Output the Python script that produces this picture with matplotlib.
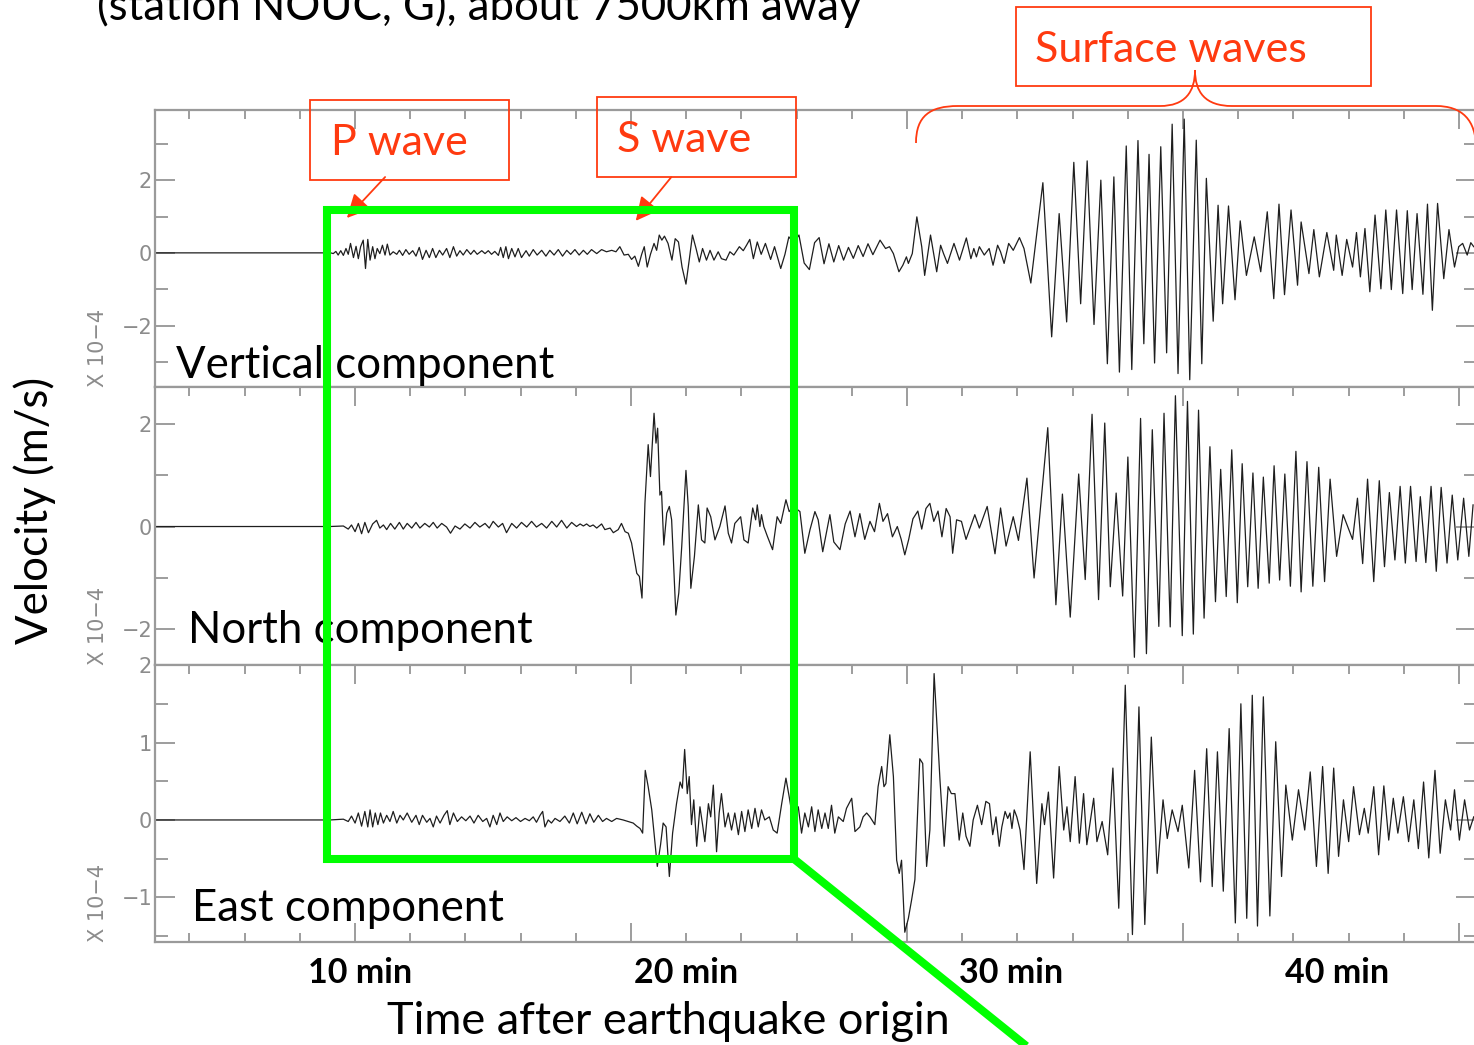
import numpy as np
import matplotlib.pyplot as plt
from matplotlib.patches import Rectangle, FancyArrowPatch, PathPatch
from matplotlib.path import Path
from matplotlib.lines import Line2D
from matplotlib.transforms import Affine2D, blended_transform_factory

# velocity traces, (minutes after origin, velocity x 1e-4 m/s) at the turning points
vertical = [
    (3.71, 0.0), (9.10, 0.0), (9.18, -0.02), (9.26, 0.04), (9.33, -0.06), (9.41, 0.06), (9.49, -0.07),
    (9.57, 0.12), (9.64, -0.04), (9.71, 0.26), (9.80, -0.13), (9.88, 0.18), (9.95, -0.16), (10.02, 0.17),
    (10.10, 0.35), (10.17, -0.43), (10.24, 0.37), (10.31, -0.20), (10.39, 0.17), (10.46, -0.16),
    (10.53, 0.12), (10.61, -0.02), (10.69, 0.21), (10.77, -0.06), (10.84, 0.24), (10.92, -0.06),
    (11.02, 0.03), (11.13, -0.04), (11.21, 0.07), (11.31, -0.07), (11.41, 0.09), (11.51, -0.04),
    (11.62, 0.06), (11.72, -0.09), (11.82, 0.15), (11.92, -0.18), (12.03, 0.07), (12.13, -0.13),
    (12.23, 0.12), (12.33, -0.13), (12.44, 0.07), (12.54, -0.06), (12.66, 0.12), (12.76, -0.13),
    (12.87, 0.17), (12.97, -0.09), (13.07, 0.06), (13.17, -0.06), (13.28, 0.09), (13.40, -0.04),
    (13.50, 0.07), (13.60, -0.04), (13.74, 0.06), (13.84, -0.02), (13.94, 0.06), (14.04, -0.04),
    (14.14, 0.04), (14.25, -0.07), (14.32, 0.15), (14.40, -0.13), (14.48, 0.17), (14.56, -0.16),
    (14.66, 0.12), (14.76, -0.11), (14.86, 0.12), (14.96, -0.13), (15.10, 0.06), (15.20, -0.09),
    (15.32, 0.09), (15.44, -0.06), (15.58, 0.07), (15.71, -0.09), (15.83, 0.07), (15.96, -0.06),
    (16.09, 0.09), (16.22, -0.09), (16.35, 0.07), (16.47, -0.04), (16.60, 0.09), (16.73, -0.06),
    (16.86, 0.07), (16.98, -0.04), (17.11, 0.09), (17.27, -0.02), (17.42, 0.09), (17.57, 0.03),
    (17.73, 0.07), (17.86, 0.03), (17.98, 0.17), (18.11, -0.06), (18.24, -0.04), (18.34, -0.18),
    (18.44, -0.09), (18.55, -0.37), (18.65, -0.04), (18.73, 0.17), (18.82, -0.39), (18.92, -0.04),
    (19.03, 0.26), (19.11, 0.07), (19.19, 0.49), (19.27, 0.35), (19.35, 0.46), (19.46, 0.26),
    (19.58, -0.20), (19.68, 0.39), (19.78, 0.30), (19.89, -0.39), (20.01, -0.86), (20.11, -0.20),
    (20.21, 0.49), (20.32, 0.12), (20.42, -0.25), (20.52, 0.12), (20.64, -0.20), (20.75, 0.07),
    (20.87, -0.20), (21.00, 0.03), (21.10, -0.16), (21.24, -0.20), (21.36, 0.03), (21.48, -0.06),
    (21.65, 0.17), (21.77, 0.06), (21.87, 0.21), (21.97, 0.37), (22.08, -0.16), (22.20, 0.30),
    (22.32, -0.04), (22.45, 0.26), (22.61, -0.18), (22.73, 0.17), (22.92, -0.43), (23.05, -0.04),
    (23.17, 0.44), (23.32, 0.28), (23.48, 0.49), (23.64, -0.28), (23.80, -0.46), (23.96, 0.28),
    (24.10, 0.42), (24.25, -0.30), (24.40, 0.25), (24.55, -0.25), (24.70, 0.20), (24.85, -0.20),
    (25.00, 0.15), (25.15, -0.15), (25.30, 0.20), (25.45, -0.10), (25.60, 0.25), (25.75, -0.05),
    (25.97, 0.35), (26.14, 0.12), (26.26, 0.17), (26.38, -0.02), (26.55, -0.52), (26.67, -0.34),
    (26.78, -0.11), (26.84, -0.29), (26.96, -0.02), (27.10, 0.99), (27.25, 0.17), (27.34, -0.62),
    (27.52, 0.49), (27.71, -0.52), (27.83, 0.21), (27.92, -0.02), (28.04, -0.29), (28.24, 0.26),
    (28.41, -0.20), (28.62, 0.41), (28.76, -0.16), (28.85, 0.12), (28.93, -0.11), (29.02, 0.17),
    (29.17, -0.06), (29.32, 0.12), (29.44, -0.34), (29.58, 0.21), (29.67, 0.03), (29.78, -0.29),
    (29.92, 0.26), (30.06, 0.07), (30.25, 0.42), (30.39, 0.12), (30.60, -0.83), (30.97, 1.93),
    (31.24, -2.31), (31.47, 1.08), (31.70, -1.90), (31.92, 2.49), (32.13, -1.40), (32.33, 2.53),
    (32.54, -1.97), (32.75, 2.00), (32.95, -3.05), (33.15, 2.09), (33.32, -3.28), (33.53, 2.94),
    (33.70, -3.21), (33.89, 3.09), (34.07, -2.50), (34.23, 2.71), (34.40, -3.03), (34.59, 2.92),
    (34.77, -2.75), (34.94, 3.54), (35.12, -3.32), (35.31, 3.68), (35.48, -3.49), (35.68, 3.10),
    (35.85, -3.05), (35.99, 2.05), (36.20, -1.88), (36.35, 1.31), (36.49, -1.40), (36.67, 1.29),
    (36.87, -1.29), (37.03, 0.88), (37.22, -0.62), (37.46, 0.44), (37.66, -0.52), (37.86, 1.13),
    (38.06, -1.26), (38.22, 1.34), (38.39, -1.15), (38.59, 1.18), (38.79, -0.89), (38.90, 0.85),
    (39.14, -0.57), (39.29, 0.64), (39.46, -0.66), (39.69, 0.56), (39.90, -0.48), (39.98, 0.49),
    (40.16, -0.62), (40.30, 0.37), (40.48, -0.39), (40.60, 0.56), (40.72, -0.66), (40.86, 0.67),
    (41.01, -1.07), (41.17, 1.04), (41.35, -0.99), (41.50, 1.18), (41.67, -1.01), (41.83, 1.18),
    (42.02, -1.12), (42.16, 1.16), (42.31, -1.01), (42.46, 1.08), (42.64, -1.14), (42.78, 1.34),
    (42.93, -1.58), (43.09, 1.36), (43.28, -0.71), (43.44, 0.64), (43.61, -0.39), (43.74, 0.17),
    (43.86, 0.26), (44.00, -0.06), (44.11, 0.28), (44.20, 0.17),
]

north = [
    (3.71, 0.0), (9.08, 0.0), (9.49, 0.01), (9.64, -0.05), (9.74, 0.03), (9.85, -0.10), (9.95, 0.06),
    (10.05, -0.14), (10.15, 0.08), (10.26, -0.12), (10.39, 0.05), (10.51, 0.12), (10.61, -0.03),
    (10.72, 0.03), (10.82, -0.06), (10.94, 0.06), (11.07, -0.05), (11.21, 0.08), (11.33, -0.05),
    (11.45, 0.06), (11.59, -0.03), (11.72, 0.08), (11.84, -0.03), (11.99, 0.06), (12.13, -0.01),
    (12.25, 0.08), (12.37, -0.03), (12.51, 0.06), (12.66, -0.01), (12.78, -0.13), (12.92, 0.01),
    (13.07, -0.05), (13.22, 0.05), (13.38, -0.03), (13.53, 0.08), (13.68, -0.01), (13.84, 0.06),
    (13.97, -0.03), (14.09, 0.10), (14.25, -0.01), (14.38, 0.06), (14.50, -0.12), (14.66, 0.06),
    (14.81, -0.03), (14.96, 0.08), (15.12, -0.01), (15.27, 0.10), (15.42, -0.01), (15.58, 0.06),
    (15.73, -0.03), (15.89, 0.10), (16.04, -0.01), (16.19, 0.12), (16.35, -0.03), (16.50, 0.08),
    (16.65, 0.00), (16.76, 0.05), (16.86, 0.01), (16.96, 0.05), (17.06, 0.00), (17.16, 0.03),
    (17.27, -0.03), (17.42, 0.05), (17.52, -0.06), (17.68, -0.03), (17.78, -0.12), (17.93, -0.06),
    (18.03, 0.06), (18.14, -0.10), (18.24, -0.13), (18.34, -0.32), (18.50, -0.91), (18.58, -0.97),
    (18.66, -1.39), (18.75, 0.45), (18.85, 1.59), (18.92, 0.97), (19.03, 2.20), (19.09, 1.62),
    (19.14, 1.91), (19.21, 0.61), (19.26, 0.68), (19.33, -0.36), (19.42, 0.26), (19.50, 0.39),
    (19.57, 0.13), (19.70, -1.72), (19.79, -1.29), (19.88, -0.39), (20.01, 1.09), (20.08, 0.39),
    (20.16, -1.20), (20.27, -0.58), (20.39, 0.42), (20.49, -0.26), (20.59, -0.32), (20.66, 0.36),
    (20.77, 0.19), (20.90, -0.26), (21.05, 0.00), (21.21, 0.40), (21.31, -0.13), (21.41, -0.32),
    (21.51, 0.06), (21.69, 0.19), (21.79, -0.26), (21.92, -0.32), (22.06, 0.36), (22.15, 0.13),
    (22.20, 0.42), (22.28, 0.00), (22.33, 0.23), (22.40, 0.00), (22.51, -0.19), (22.67, -0.45),
    (22.81, 0.19), (22.92, 0.06), (23.08, 0.52), (23.18, 0.29), (23.31, 0.39), (23.51, 0.29),
    (23.66, -0.52), (23.82, -0.06), (23.97, 0.29), (24.07, 0.13), (24.21, -0.49), (24.33, -0.10),
    (24.43, 0.23), (24.55, -0.30), (24.74, -0.45), (24.90, 0.05), (25.05, 0.30), (25.20, -0.20),
    (25.35, 0.25), (25.50, -0.25), (25.66, 0.10), (25.80, -0.10), (25.95, 0.45), (26.06, 0.10),
    (26.20, 0.25), (26.35, -0.20), (26.50, 0.00), (26.62, -0.25), (26.73, -0.55), (26.85, -0.25),
    (26.98, 0.15), (27.13, 0.30), (27.25, -0.05), (27.38, 0.35), (27.50, 0.45), (27.62, 0.10),
    (27.75, 0.30), (27.87, -0.20), (28.00, 0.35), (28.12, 0.19), (28.20, -0.52), (28.32, 0.13),
    (28.47, 0.10), (28.61, -0.25), (28.88, 0.23), (29.02, -0.03), (29.26, 0.39), (29.50, -0.53),
    (29.67, 0.36), (29.84, -0.38), (30.06, 0.19), (30.22, -0.27), (30.48, 0.94), (30.70, -1.00),
    (30.83, -0.10), (31.12, 1.92), (31.37, -1.52), (31.57, 0.63), (31.81, -1.76), (32.07, 1.02),
    (32.27, -1.03), (32.48, 2.18), (32.68, -1.42), (32.87, 2.01), (33.04, -1.17), (33.22, 0.65),
    (33.42, -1.35), (33.58, 1.35), (33.78, -2.54), (33.97, 2.10), (34.15, -2.47), (34.33, 1.88),
    (34.53, -1.94), (34.69, 2.20), (34.88, -1.95), (35.04, 2.54), (35.25, -2.12), (35.41, 2.43),
    (35.59, -2.09), (35.75, 2.26), (35.92, -1.78), (36.10, 1.55), (36.27, -1.46), (36.43, 1.11),
    (36.60, -1.36), (36.77, 1.49), (36.94, -1.48), (37.09, 1.22), (37.26, -1.17), (37.42, 1.04),
    (37.58, -1.20), (37.74, 0.96), (37.92, -1.10), (38.07, 1.18), (38.24, -1.04), (38.40, 1.02),
    (38.57, -1.16), (38.74, 1.46), (38.90, -1.27), (39.08, 1.26), (39.26, -1.16), (39.44, 1.15),
    (39.62, -1.07), (39.79, 0.92), (39.99, -0.58), (40.19, 0.23), (40.48, -0.25), (40.63, 0.55),
    (40.79, -0.72), (40.94, 0.92), (41.13, -1.07), (41.30, 0.89), (41.46, -0.78), (41.61, 0.66),
    (41.78, -0.65), (41.94, 0.78), (42.10, -0.71), (42.26, 0.78), (42.43, -0.68), (42.56, 0.58),
    (42.73, -0.70), (42.89, 0.78), (43.05, -0.87), (43.20, 0.76), (43.38, -0.71), (43.54, 0.61),
    (43.71, -0.65), (43.89, 0.55), (44.05, -0.58), (44.18, 0.42),
]

east = [
    (3.71, 0.0), (9.08, 0.0), (9.49, 0.01), (9.64, -0.02), (9.74, 0.05), (9.85, -0.04), (9.95, 0.09),
    (10.05, -0.08), (10.15, 0.11), (10.24, -0.09), (10.31, 0.13), (10.39, -0.09), (10.47, 0.09),
    (10.55, -0.06), (10.63, 0.09), (10.72, -0.04), (10.82, 0.06), (10.92, -0.02), (11.02, 0.11),
    (11.13, -0.04), (11.23, 0.06), (11.33, 0.00), (11.45, 0.09), (11.59, -0.03), (11.72, 0.06),
    (11.82, -0.06), (11.92, 0.06), (12.05, -0.03), (12.15, 0.02), (12.25, -0.09), (12.35, 0.05),
    (12.46, -0.04), (12.58, 0.06), (12.68, 0.12), (12.76, -0.06), (12.87, 0.09), (12.99, -0.02),
    (13.12, 0.04), (13.25, -0.01), (13.38, 0.05), (13.50, -0.04), (13.63, 0.06), (13.77, -0.02),
    (13.89, 0.02), (13.99, -0.09), (14.09, 0.06), (14.20, -0.06), (14.30, 0.09), (14.40, -0.02),
    (14.52, 0.04), (14.66, -0.01), (14.79, 0.03), (14.93, -0.02), (15.07, 0.02), (15.20, -0.01),
    (15.32, 0.04), (15.42, -0.03), (15.53, 0.06), (15.61, 0.11), (15.68, -0.09), (15.78, 0.00),
    (15.88, -0.04), (15.99, 0.02), (16.14, -0.02), (16.29, 0.05), (16.43, -0.04), (16.55, 0.09),
    (16.67, -0.05), (16.81, 0.10), (16.94, -0.05), (17.06, 0.08), (17.18, -0.03), (17.32, 0.06),
    (17.45, -0.02), (17.57, 0.02), (17.73, -0.02), (17.88, 0.02), (18.08, 0.00), (18.24, -0.02),
    (18.39, -0.04), (18.50, -0.08), (18.60, -0.11), (18.68, -0.17), (18.76, 0.64), (18.85, 0.43),
    (18.96, 0.13), (19.03, -0.17), (19.13, -0.60), (19.23, -0.32), (19.31, -0.04), (19.40, -0.09),
    (19.50, -0.73), (19.60, -0.17), (19.72, 0.21), (19.83, 0.49), (19.90, 0.41), (19.97, 0.91),
    (20.05, 0.34), (20.11, 0.56), (20.18, -0.06), (20.25, 0.26), (20.34, -0.34), (20.44, 0.17),
    (20.52, -0.06), (20.59, -0.28), (20.70, 0.21), (20.77, 0.04), (20.85, 0.45), (20.95, -0.41),
    (21.03, 0.09), (21.10, 0.34), (21.21, -0.09), (21.31, 0.09), (21.41, -0.13), (21.51, 0.09),
    (21.62, -0.19), (21.72, 0.11), (21.82, -0.15), (21.92, 0.13), (22.03, -0.11), (22.13, 0.15),
    (22.23, -0.09), (22.33, 0.13), (22.43, 0.00), (22.57, 0.04), (22.69, -0.13), (22.81, -0.17),
    (22.95, 0.21), (23.08, 0.54), (23.18, 0.30), (23.31, -0.04), (23.46, 0.17), (23.56, -0.17),
    (23.66, 0.09), (23.77, -0.09), (23.87, 0.17), (23.97, -0.15), (24.07, 0.13), (24.18, -0.11),
    (24.28, 0.09), (24.38, -0.11), (24.48, 0.19), (24.58, -0.17), (24.69, 0.04), (24.84, -0.02),
    (24.94, 0.15), (25.10, 0.28), (25.20, -0.15), (25.35, -0.09), (25.45, 0.04), (25.56, 0.09),
    (25.66, 0.04), (25.81, -0.06), (25.91, 0.43), (26.02, 0.69), (26.09, 0.43), (26.15, 0.47),
    (26.27, 1.10), (26.38, 0.56), (26.48, -0.52), (26.56, -0.69), (26.63, -0.52), (26.73, -1.45),
    (26.84, -1.27), (26.94, -1.03), (27.04, -0.77), (27.19, 0.79), (27.28, 0.73), (27.40, -0.60),
    (27.50, -0.13), (27.63, 1.89), (27.81, 0.52), (27.94, -0.34), (28.06, 0.43), (28.16, 0.34),
    (28.27, 0.34), (28.40, -0.26), (28.51, 0.09), (28.61, -0.21), (28.73, -0.34), (28.83, 0.00),
    (28.96, 0.19), (29.09, -0.06), (29.22, 0.24), (29.33, 0.21), (29.43, -0.19), (29.53, 0.04),
    (29.63, -0.34), (29.71, -0.09), (29.81, 0.11), (29.89, 0.02), (29.96, 0.09), (30.02, -0.11),
    (30.09, 0.13), (30.17, 0.04), (30.27, -0.13), (30.39, -0.64), (30.58, 0.88), (30.78, -0.82),
    (30.94, 0.21), (31.02, -0.06), (31.14, 0.36), (31.30, -0.75), (31.47, 0.69), (31.61, -0.13),
    (31.71, 0.17), (31.81, -0.28), (31.96, 0.56), (32.09, -0.30), (32.22, 0.34), (32.32, -0.32),
    (32.53, 0.28), (32.63, -0.28), (32.79, -0.02), (32.96, -0.45), (33.12, 0.67), (33.30, -1.14),
    (33.50, 1.74), (33.72, -1.48), (33.92, 1.46), (34.10, -1.35), (34.30, 1.07), (34.48, -0.69),
    (34.66, 0.26), (34.79, -0.24), (34.94, 0.13), (35.12, -0.15), (35.25, 0.19), (35.45, -0.62),
    (35.63, 0.64), (35.81, -0.80), (36.00, 0.92), (36.17, -0.86), (36.33, 0.88), (36.51, -0.92),
    (36.69, 1.18), (36.88, -1.33), (37.05, 1.50), (37.23, -1.27), (37.40, 1.61), (37.56, -1.37),
    (37.74, 1.59), (37.94, -1.24), (38.12, 1.01), (38.30, -0.73), (38.43, 0.45), (38.63, -0.26),
    (38.82, 0.39), (39.01, -0.13), (39.18, 0.62), (39.37, -0.60), (39.56, 0.69), (39.73, -0.69),
    (39.90, 0.67), (40.05, -0.47), (40.20, 0.26), (40.36, -0.28), (40.51, 0.43), (40.69, -0.19),
    (40.84, 0.15), (40.96, -0.17), (41.13, 0.43), (41.28, -0.45), (41.44, 0.44), (41.59, -0.26),
    (41.73, 0.28), (41.87, -0.17), (42.04, 0.30), (42.20, -0.28), (42.36, 0.26), (42.50, -0.37),
    (42.66, 0.49), (42.82, -0.49), (43.01, 0.64), (43.17, -0.43), (43.33, 0.26), (43.49, -0.13),
    (43.61, 0.39), (43.76, -0.26), (43.92, 0.26), (44.07, -0.13), (44.20, 0.04),
]

component_names = ["Vertical component", "North component", "East component"]
minute_labels = [10, 20, 30, 40]
wave_labels = ["P wave", "S wave", "Surface waves"]

W, H = 1474, 1045
RED = "#ff3a10"
GREEN = "#00ff00"
GRAY = "#8c8c8c"
LABEL_FONT = "Lato"

fig = plt.figure(figsize=(W / 100, H / 100), dpi=100)
# pixel coordinates with origin in the top-left corner, for the slide annotations
px = Affine2D().scale(1 / W, -1 / H).translate(0, 1) + fig.transFigure

# panel layout in pixels: (top, bottom), y limits, major / minor y ticks
panels = [
    ((110, 387), (-3.69, 3.93), [-2, 0, 2], [-3, -1, 1, 3]),
    ((387, 665), (-2.69, 2.71), [-2, 0, 2], [-1, 1]),
    ((665, 942), (-1.576, 2.001), [-1, 0, 1, 2], [-1.5, -0.5, 0.5, 1.5]),
]
traces = [vertical, north, east]
x_left, x_right = 155, 1476
t_min, t_max = 3.706, 44.27
tick_step = 1.695      # one frame tick every ~100 s
tick_ref = 9.85
major_x = np.arange(tick_ref, t_max, 5 * tick_step)
minor_x = np.arange(tick_ref - 3 * tick_step, t_max, tick_step)

axes = []
for i, ((top, bot), ylim, ymaj, ymin) in enumerate(panels):
    ax = fig.add_axes([x_left / W, (H - bot) / H, (x_right - x_left) / W, (bot - top) / H])
    t, v = np.array(traces[i]).T
    ax.plot(t, v, color="#1e1e1e", lw=0.9, solid_joinstyle="round")
    for s in ax.spines.values():
        s.set_color("#9a9a9a")
        s.set_linewidth(1.6)
    ax.set_xticks(major_x)
    ax.set_xticks(minor_x, minor=True)
    last = i == len(panels) - 1
    ax.tick_params(axis="x", which="both", direction="in", top=True, bottom=last,
                   labelbottom=False, color=GRAY, width=1.2)
    ax.tick_params(axis="x", which="major", length=14)
    ax.tick_params(axis="x", which="minor", length=6.5)
    ax.set_yticks(ymaj)
    ax.set_yticks(ymin, minor=True)
    ax.tick_params(axis="y", which="both", direction="in", left=True, right=True,
                   color=GRAY, width=1.2, labelcolor=GRAY, labelsize=15, pad=2)
    ax.tick_params(axis="y", which="major", length=14.5)
    ax.tick_params(axis="y", which="minor", length=9)
    ax.set_xlim(t_min, t_max)
    ax.set_ylim(*ylim)
    ax.text(-57 / (x_right - x_left), 0, "X 10\u22124", transform=ax.transAxes, rotation=90,
            ha="center", va="bottom", color=GRAY, fontsize=15, clip_on=False)
    axes.append(ax)

# component names inside each panel
for name, (x, y) in zip(component_names, [(176, 378), (188, 643), (192, 921)]):
    fig.text(x, y, name, transform=px, fontsize=31.5, family=LABEL_FONT, va="baseline", zorder=3)

# minute labels under the time axis
ax3 = axes[-1]
lab_tr = blended_transform_factory(ax3.transData, ax3.transAxes)
for m in minute_labels:
    ax3.text(m, -0.112, f"{m} min", transform=lab_tr, ha="center", va="center",
             fontsize=24.5, fontweight="bold", family=LABEL_FONT, clip_on=False)

fig.text(668, 1021, "Time after earthquake origin", transform=px, ha="center", va="center",
         fontsize=32.5, family=LABEL_FONT)
fig.text(35, 510, "Velocity (m/s)", transform=px, ha="center", va="center", rotation=90,
         fontsize=31.5, family=LABEL_FONT)
fig.text(97, 20, "(station NOUC, G), about 7500km away", transform=px, ha="left",
         va="baseline", fontsize=31.5, family=LABEL_FONT)

# red call-out boxes and arrows
boxes = [(310, 100, 199, 80), (597, 97, 199, 80), (1016, 7, 355, 79)]
text_pos = [(331, 155), (617, 152), (1035, 62)]
for (bx, by, bw, bh), (tx, ty), lab in zip(boxes, text_pos, wave_labels):
    fig.add_artist(Rectangle((bx, by), bw, bh, transform=px, fill=False, ec=RED, lw=1.3, zorder=4))
    fig.text(tx, ty, lab, transform=px, color=RED, fontsize=31, family=LABEL_FONT,
             va="baseline", zorder=4)

for start, end in [((387, 175), (345, 220)), ((673, 175), (634, 223))]:
    fig.add_artist(FancyArrowPatch(start, end, transform=px, arrowstyle="-|>,head_length=0.9,head_width=0.45",
                                   mutation_scale=16, color=RED, lw=1.3, zorder=4))

# curly brace over the surface-wave train
brace = Path(
    [(916, 143), (916, 116), (930, 106), (958, 106),
     (1160, 106), (1185, 106), (1195, 92), (1195, 70),
     (1195, 92), (1205, 106), (1232, 106),
     (1436, 106), (1462, 106), (1476, 120), (1476, 148)],
    [Path.MOVETO, Path.CURVE4, Path.CURVE4, Path.CURVE4,
     Path.LINETO, Path.CURVE4, Path.CURVE4, Path.CURVE4,
     Path.CURVE4, Path.CURVE4, Path.CURVE4,
     Path.LINETO, Path.CURVE4, Path.CURVE4, Path.CURVE4])
fig.add_artist(PathPatch(brace, transform=px, fill=False, ec=RED, lw=1.3, zorder=4))

# green zoom box with its leader line
fig.add_artist(Rectangle((327, 210), 467, 649, transform=px, fill=False, ec=GREEN, lw=5.8,
                         joinstyle="miter", zorder=5))
fig.add_artist(Line2D([794, 1050], [859, 1065], transform=px, color=GREEN, lw=5.8,
                      solid_capstyle="butt", zorder=5))

fig.savefig("out.png", dpi=100)
